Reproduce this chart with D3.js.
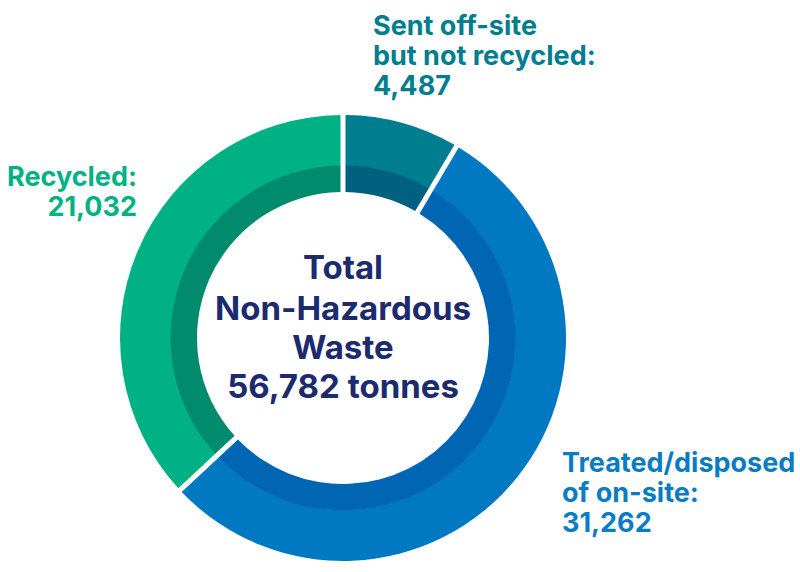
<!DOCTYPE html>
<html><head><meta charset="utf-8">
<script src="https://cdn.jsdelivr.net/npm/d3@7"></script>
<style>
html,body{margin:0;padding:0;background:#fff;}
svg{display:block;}
text{font-family:Inter,"Open Sans",sans-serif;font-weight:700;}
</style></head>
<body>
<script>
const categories = ["Sent off-site but not recycled", "Treated/disposed of on-site", "Recycled"];
const values = [4487, 31262, 21032];
const labelLines = [
  ["Sent off-site", "but not recycled:", "4,487"],
  ["Treated/disposed", "of on-site:", "31,262"],
  ["Recycled:", "21,032"]
];
const centerLines = ["Total", "Non-Hazardous", "Waste", "56,782 tonnes"];

const outerColors = ["#007d8e", "#0079c2", "#00b283"];
const innerColors = ["#00607f", "#0066b3", "#008a6e"];
const labelColors = ["#007d8e", "#0a7cc4", "#00b283"];

const W = 800, H = 572;
const cx = 343, cy = 338;
const rOuter = 223, rMid = 172, rInner = 146;

const svg = d3.select("body").append("svg").attr("width", W).attr("height", H);
const g = svg.append("g").attr("transform", `translate(${cx},${cy})`);

const pie = d3.pie().sort(null).value(d => d).padAngle(0.05);
const arcs = pie(values);

const outerArc = d3.arc().innerRadius(rMid).outerRadius(rOuter).padRadius(100);
const innerArc = d3.arc().innerRadius(rInner).outerRadius(rMid + 0.5).padRadius(100);

g.selectAll("path.outer").data(arcs).join("path").attr("class", "outer")
  .attr("d", outerArc).attr("fill", (d, i) => outerColors[i]);
g.selectAll("path.inner").data(arcs).join("path").attr("class", "inner")
  .attr("d", innerArc).attr("fill", (d, i) => innerColors[i]);

// center text
const cBase = [279, 320, 359, 398];
centerLines.forEach((t, i) => {
  g.append("text").attr("text-anchor", "middle").attr("fill", "#1b2b6e")
    .style("font-size", "33px")
    .attr("x", 0).attr("y", cBase[i] - cy).text(t);
});

// labels
const labelPos = [
  {x: 373, y: [35, 65, 95], anchor: "start"},
  {x: 562, y: [472, 502, 532], anchor: "start"},
  {x: 137, y: [185.5, 215.5], anchor: "end"}
];
labelLines.forEach((lines, i) => {
  const p = labelPos[i];
  lines.forEach((l, j) => svg.append("text").attr("text-anchor", p.anchor)
    .attr("fill", labelColors[i]).style("font-size", "27px")
    .attr("x", p.x).attr("y", p.y[j]).text(l));
});
</script>
</body></html>
